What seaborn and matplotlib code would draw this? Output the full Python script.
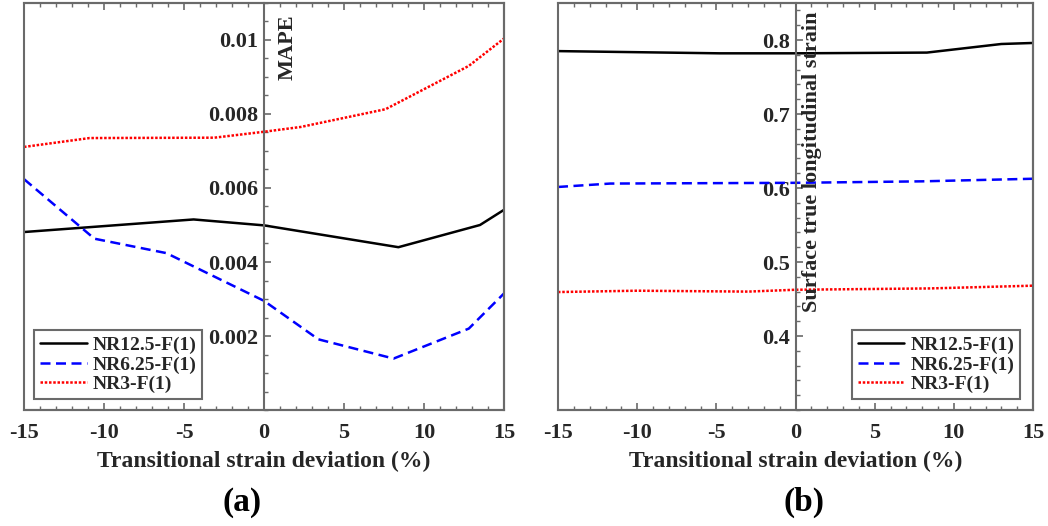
import numpy as np
import pandas as pd
import matplotlib.pyplot as plt
import seaborn as sns
from matplotlib.patches import Rectangle
from matplotlib.ticker import MultipleLocator, FuncFormatter

# series names / styles
series = ["NR12.5-F(1)", "NR6.25-F(1)", "NR3-F(1)"]
colors = ["black", "#0000ff", "#ff0000"]
styles = ["-", (0, (4, 2.2)), (0, (1, 0.7))]

# (a) MAPE vs transitional strain deviation (%)
a_x_nr125 = [-15, -4.4, 0, 8.4, 13.5, 15]
a_y_nr125 = [0.00481, 0.00515, 0.00499, 0.00440, 0.00500, 0.00541]
a_x_nr625 = [-15, -10.6, -6.1, 0, 3.4, 8.1, 12.8, 15]
a_y_nr625 = [0.00624, 0.00463, 0.00424, 0.00295, 0.00191, 0.00139, 0.00220, 0.00315]
a_x_nr3 = [-15, -10.9, -3.1, 0, 2.3, 7.6, 12.8, 15]
a_y_nr3 = [0.00711, 0.00735, 0.00736, 0.00752, 0.00765, 0.00813, 0.00930, 0.01004]

# (b) surface true longitudinal strain
b_x_nr125 = [-15, -4.8, 0, 8.3, 13.0, 15]
b_y_nr125 = [0.785, 0.782, 0.782, 0.783, 0.7946, 0.796]
b_x_nr625 = [-15, -11.7, 0, 8, 15]
b_y_nr625 = [0.6014, 0.606, 0.607, 0.609, 0.6125]
b_x_nr3 = [-15, -10, -3, 0, 8.5, 15]
b_y_nr3 = [0.4594, 0.4612, 0.460, 0.4625, 0.4643, 0.468]

sns.set_style("ticks")
plt.rcParams['font.family'] = ['Liberation Serif', 'DejaVu Serif']
plt.rcParams['font.weight'] = 'bold'
plt.rcParams['axes.labelweight'] = 'bold'
plt.rcParams['axes.unicode_minus'] = False

gray = "#6a6a6a"
txt = "#262626"

fig = plt.figure(figsize=(10.48, 5.26), dpi=100)
W, H = 1048, 526
ax1 = fig.add_axes([24 / W, 1 - 410 / H, 480 / W, 407 / H])
ax2 = fig.add_axes([558 / W, 1 - 410 / H, 475 / W, 407 / H])

panels = [
    (ax1, [(a_x_nr125, a_y_nr125), (a_x_nr625, a_y_nr625), (a_x_nr3, a_y_nr3)]),
    (ax2, [(b_x_nr125, b_y_nr125), (b_x_nr625, b_y_nr625), (b_x_nr3, b_y_nr3)]),
]

for ax, data in panels:
    for (xs, ys), name, c, ls in zip(data, series, colors, styles):
        sns.lineplot(x=xs, y=ys, ax=ax, color=c, linestyle=ls, lw=1.8,
                     label=name, sort=False)
    ax.set_xlim(-15, 15)
    ax.spines['left'].set_position(('data', 0))
    for s in ax.spines.values():
        s.set_color(gray)
        s.set_linewidth(1.5)
    ax.add_patch(Rectangle((0, 0), 1, 1, transform=ax.transAxes, fill=False,
                           edgecolor=gray, lw=1.5, clip_on=False, zorder=5))
    ax.xaxis.set_major_locator(MultipleLocator(5))
    ax.xaxis.set_minor_locator(MultipleLocator(1))
    ax.tick_params(axis='x', which='both', direction='in', top=True, bottom=True,
                   color=gray, labelsize=16, labelcolor=txt, pad=9)
    ax.tick_params(axis='y', which='both', direction='in', left=True, right=False,
                   color=gray, labelsize=16, labelcolor=txt, pad=4)
    ax.tick_params(which='major', length=5, width=1.2)
    ax.tick_params(which='minor', length=3, width=1.0)
    ax.set_xlabel("Transitional strain deviation (%)", fontsize=17,
                  fontweight='bold', color=txt, labelpad=6)
    ax.set_ylabel("")
    leg = ax.get_legend()
    if leg:
        leg.remove()

# (a) axis
ax1.set_ylim(0, 0.011)
ax1.set_yticks([0.002, 0.004, 0.006, 0.008, 0.01])
ax1.yaxis.set_minor_locator(MultipleLocator(0.0005))
ax1.yaxis.set_major_formatter(FuncFormatter(lambda v, p: f"{v:g}"))
ax1.annotate("MAPE", xy=(0, 1), xycoords=ax1.get_xaxis_transform(),
             xytext=(10, -8), textcoords='offset points', rotation=90,
             ha='left', va='top', fontsize=16, color=txt)

# (b) axis
ax2.set_ylim(0.3, 0.85)
ax2.set_yticks([0.4, 0.5, 0.6, 0.7, 0.8])
ax2.yaxis.set_minor_locator(MultipleLocator(0.02))
ax2.yaxis.set_major_formatter(FuncFormatter(lambda v, p: f"{v:g}"))
ax2.annotate("Surface true longitudinal strain", xy=(0, 1),
             xycoords=ax2.get_xaxis_transform(), xytext=(5, -6),
             textcoords='offset points', rotation=90, ha='left', va='top',
             fontsize=16, color=txt)

leg_kw = dict(fontsize=14, frameon=True, fancybox=False, framealpha=1,
              edgecolor=gray, handlelength=2.4, handletextpad=0.3,
              labelspacing=0.1, borderpad=0.3, borderaxespad=0)
l1 = ax1.legend(loc='lower left', bbox_to_anchor=(10 / 480, 11 / 407), **leg_kw)
l2 = ax2.legend(loc='lower right', bbox_to_anchor=(1 - 13 / 475, 11 / 407), **leg_kw)
for l in (l1, l2):
    l.get_frame().set_linewidth(1.5)
    for t in l.get_texts():
        t.set_color(txt)

ax1.text(0.454, -0.228, "(a)", transform=ax1.transAxes, ha='center',
         va='center', fontsize=24, color="black")
ax2.text(0.518, -0.228, "(b)", transform=ax2.transAxes, ha='center',
         va='center', fontsize=24, color="black")

fig.savefig("out.png", dpi=100)
